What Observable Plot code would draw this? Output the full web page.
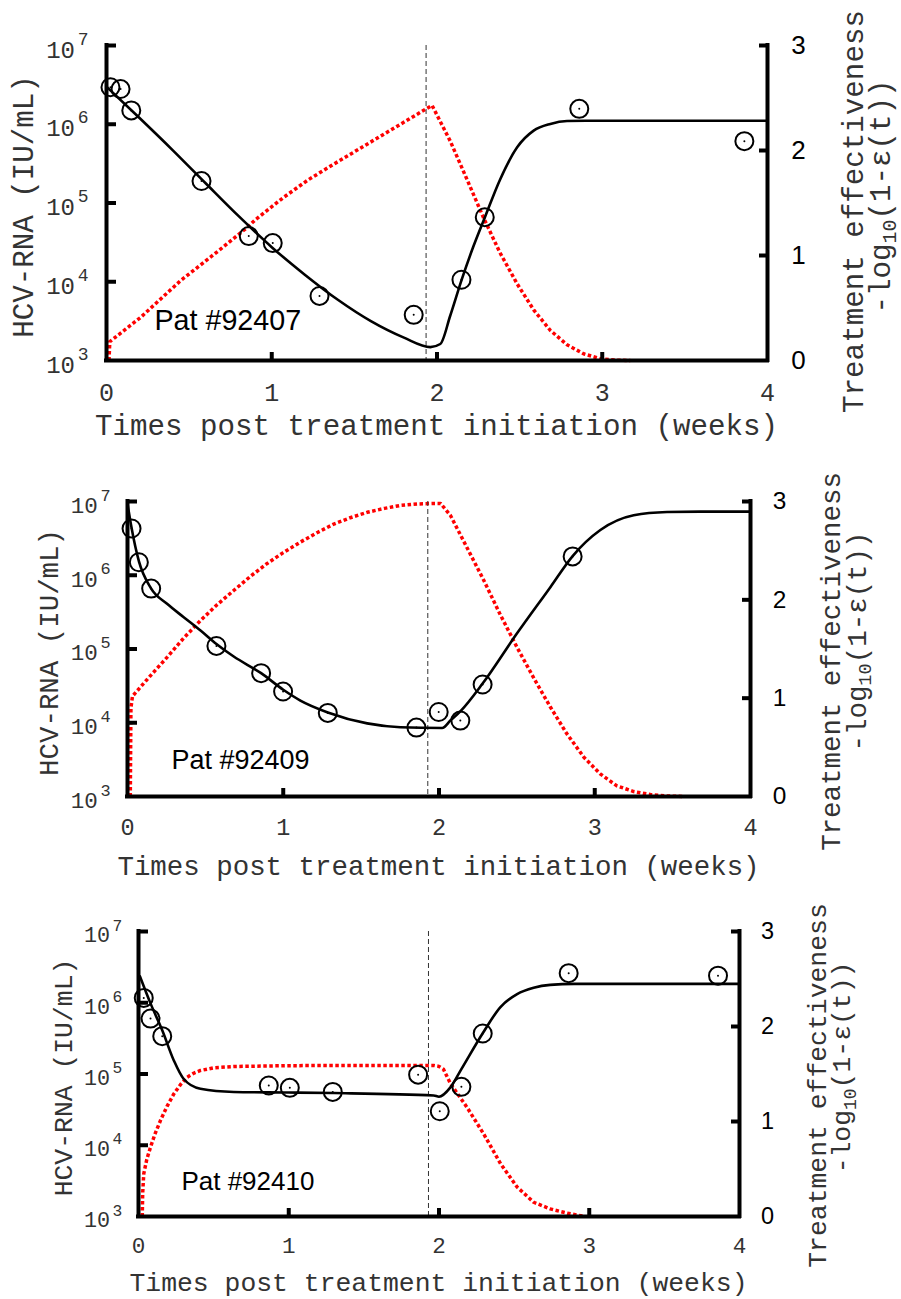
<!DOCTYPE html>
<html>
<head>
<meta charset="utf-8">
<script src="https://cdn.jsdelivr.net/npm/d3@7"></script>
<script src="https://cdn.jsdelivr.net/npm/@observablehq/plot@0.6"></script>
<style>
html, body { margin: 0; padding: 0; background: #fff; }
#chart { position: relative; width: 901px; height: 1299px; overflow: hidden; }
.panel { position: absolute; left: 0; width: 901px; }
.panel svg { position: absolute; left: 0; top: 0; }
</style>
</head>
<body>
<div id="chart"></div>
<script>
// ---------------- data ----------------
const patientNames = ["Pat #92407", "Pat #92409", "Pat #92410"];
const stopTimes = [1.934, 1.928, 1.93];        // end of treatment (weeks), dashed line
const labelT = [0.29, 0.283, 0.286];           // patient label anchor (weeks)
const labelV = [3150, 3080, 3100];             // patient label anchor (IU/mL)

const xTicks = [0, 1, 2, 3, 4];
const yTicks = [1e3, 1e4, 1e5, 1e6, 1e7];
const yExponents = ["3", "4", "5", "6", "7"];
const effTicks = [0, 1, 2, 3];

const xTitle = "Times post treatment initiation (weeks)";
const yTitle = "HCV-RNA (IU/mL)";
const rTitle1 = "Treatment effectiveness";

// Patient 92407
const obsT_92407 = [0.024, 0.085, 0.15, 0.575, 0.861, 1.006, 1.289, 1.859, 2.148, 2.289, 2.861, 3.86];
const obsV_92407 = [2.95e6, 2.8e6, 1.5e6, 1.9e5, 3.8e4, 3.1e4, 6.6e3, 3.8e3, 1.06e4, 6.6e4, 1.57e6, 6.1e5];
const fitT_92407 = [0, 0.2, 0.4, 0.6, 0.8, 1.0, 1.2, 1.4, 1.6, 1.8, 1.96, 2.02, 2.08, 2.15, 2.22, 2.29, 2.38, 2.485, 2.585, 2.686, 2.787, 2.9, 4.0];
const fitV_92407 = [3.0e6, 1.2e6, 4.7e5, 1.78e5, 6.8e4, 2.75e4, 1.23e4, 5.9e3, 3.16e3, 1.95e3, 1.48e3, 1.62e3, 3.7e3, 1.07e4, 2.8e4, 6.6e4, 1.95e5, 5.1e5, 8.3e5, 1.01e6, 1.1e6, 1.11e6, 1.11e6];
const effT_92407 = [0.015, 0.02, 0.206, 0.448, 0.69, 0.861, 0.9, 1.073, 1.22, 1.375, 1.577, 1.779, 1.97, 2.08, 2.18, 2.28, 2.38, 2.485, 2.586, 2.686, 2.787, 2.887, 2.99, 3.08, 3.17];
const effE_92407 = [0, 0.18, 0.41, 0.76, 1.06, 1.28, 1.34, 1.555, 1.72, 1.87, 2.06, 2.25, 2.43, 2.09, 1.73, 1.365, 1.03, 0.73, 0.48, 0.286, 0.15, 0.064, 0.016, 0.003, 0];

// Patient 92409
const obsT_92409 = [0.026, 0.073, 0.152, 0.571, 0.858, 0.999, 1.286, 1.855, 1.998, 2.137, 2.28, 2.858];
const obsV_92409 = [4.3e6, 1.5e6, 6.6e5, 1.1e5, 4.7e4, 2.65e4, 1.36e4, 8.6e3, 1.4e4, 1.07e4, 3.3e4, 1.8e6];
const fitT_92409 = [0, 0.026, 0.073, 0.152, 0.254, 0.361, 0.469, 0.571, 0.682, 0.858, 1.0, 1.11, 1.286, 1.539, 1.752, 2.02, 2.073, 2.14, 2.28, 2.5, 2.715, 2.858, 3.036, 3.25, 3.464, 3.678, 4.0];
const fitV_92409 = [9.3e6, 4.4e6, 1.55e6, 6.6e5, 4.1e5, 2.7e5, 1.78e5, 1.17e5, 7.9e4, 4.7e4, 2.8e4, 2.0e4, 1.38e4, 9.8e3, 8.7e3, 8.5e3, 1.07e4, 1.45e4, 3.4e4, 1.62e5, 6.9e5, 1.82e6, 4.1e6, 6.5e6, 7.2e6, 7.3e6, 7.3e6];
const effT_92409 = [0.018, 0.022, 0.032, 0.148, 0.255, 0.36, 0.469, 0.575, 0.682, 0.79, 0.897, 1.0, 1.11, 1.22, 1.324, 1.43, 1.539, 1.65, 1.752, 1.86, 1.966, 2.01, 2.073, 2.18, 2.287, 2.39, 2.5, 2.61, 2.715, 2.82, 2.93, 3.035, 3.14, 3.25, 3.357, 3.46, 3.57];
const effE_92409 = [0, 0.9, 1.02, 1.23, 1.417, 1.61, 1.79, 1.95, 2.095, 2.24, 2.37, 2.48, 2.587, 2.685, 2.77, 2.835, 2.89, 2.93, 2.96, 2.975, 2.98, 2.98, 2.86, 2.53, 2.2, 1.86, 1.52, 1.2, 0.91, 0.64, 0.40, 0.23, 0.11, 0.05, 0.02, 0.005, 0];

// Patient 92410
const obsT_92410 = [0.035, 0.08, 0.158, 0.867, 1.007, 1.293, 1.861, 2.005, 2.149, 2.291, 2.863, 3.857];
const obsV_92410 = [1.17e6, 6.0e5, 3.4e5, 6.9e4, 6.4e4, 5.6e4, 9.8e4, 3.0e4, 6.6e4, 3.7e5, 2.6e6, 2.4e6];
const fitT_92410 = [0.01, 0.08, 0.158, 0.235, 0.301, 0.412, 0.634, 1.0, 1.3, 1.965, 2.0, 2.076, 2.149, 2.29, 2.409, 2.52, 2.63, 2.74, 2.9, 4.0];
const fitV_92410 = [2.34e6, 9.8e5, 4.1e5, 1.55e5, 8.5e4, 6.2e4, 5.6e4, 5.5e4, 5.4e4, 5.0e4, 4.8e4, 6.5e4, 1.17e5, 3.7e5, 8.7e5, 1.32e6, 1.62e6, 1.78e6, 1.84e6, 1.84e6];
const effT_92410 = [0.025, 0.028, 0.035, 0.055, 0.08, 0.11, 0.146, 0.19, 0.235, 0.28, 0.324, 0.37, 0.412, 0.5, 0.634, 1.0, 1.965, 2.0, 2.03, 2.076, 2.186, 2.297, 2.41, 2.52, 2.63, 2.74, 2.853, 2.92, 2.97];
const effE_92410 = [0, 0.25, 0.45, 0.6, 0.73, 0.87, 1.01, 1.16, 1.29, 1.39, 1.466, 1.51, 1.537, 1.565, 1.579, 1.588, 1.59, 1.58, 1.55, 1.40, 1.15, 0.87, 0.555, 0.31, 0.15, 0.08, 0.035, 0.015, 0];

const obsT = [obsT_92407, obsT_92409, obsT_92410];
const obsV = [obsV_92407, obsV_92409, obsV_92410];
const fitT = [fitT_92407, fitT_92409, fitT_92410];
const fitV = [fitV_92407, fitV_92409, fitV_92410];
const effT = [effT_92407, effT_92409, effT_92410];
const effE = [effE_92407, effE_92409, effE_92410];

// ---------------- layout ----------------
const W = 901;
const layout = [
  {top: 0,   height: 440, ml: 106, mr: 134, mt: 45, mb: 80, s: 1.0,   xt: 75, xl: 40, rc1: 9,  rc2: -6},
  {top: 440, height: 440, ml: 127, mr: 151, mt: 61, mb: 84, s: 0.94,  xt: 79, xl: 38, rc1: 13, rc2: -7},
  {top: 880, height: 419, ml: 138, mr: 162, mt: 51, mb: 83, s: 0.905, xt: 75, xl: 36, rc1: 12, rc2: -6}
];
const MONO = "'Liberation Mono', 'Courier New', monospace";
const SANS = "'Liberation Sans', Arial, Helvetica, sans-serif";
const GREY = "#333";
const DOTS = "3.5,2.5";

const chart = document.getElementById("chart");

layout.forEach((L, i) => {
  const s = L.s;
  const obs = obsT[i].map((t, j) => ({t, v: obsV[i][j]}));
  const fit = fitT[i].map((t, j) => ({t, v: fitV[i][j]}));
  const eff = effT[i].map((t, j) => ({t, e: effE[i][j]}));

  const div = document.createElement("div");
  div.className = "panel";
  div.style.top = L.top + "px";
  div.style.height = L.height + "px";
  chart.appendChild(div);

  const common = {
    width: W, height: L.height,
    marginLeft: L.ml, marginRight: L.mr, marginTop: L.mt, marginBottom: L.mb,
    style: {background: "none", overflow: "visible"}
  };

  // Effectiveness (right axis, linear 0..3)
  const effPlot = Plot.plot({
    ...common,
    x: {domain: [0, 4], axis: null},
    y: {domain: [0, 3]},
    marks: [
      Plot.line(eff, {x: "t", y: "e", stroke: "#ff0000", strokeWidth: 3.5, strokeDasharray: DOTS, strokeLinecap: "butt", curve: "linear"}),
      Plot.ruleX([4], {stroke: "black", strokeWidth: 4, strokeLinecap: "square"}),
      Plot.axisY(effTicks.slice(1), {anchor: "right", tickSize: -9, strokeWidth: 4, tickFormat: () => "", label: null}),
      Plot.text(effTicks, {y: d => d, text: d => String(d), frameAnchor: "right", textAnchor: "middle", lineAnchor: "middle",
        dx: 31 * s, fontFamily: SANS, fontSize: 26 * s, fill: "black"})
    ]
  });
  // make sure the effectiveness curve is drawn dotted
  d3.select(effPlot).selectAll("path")
    .filter(function () { return (this.getAttribute("stroke") || this.parentNode.getAttribute("stroke")) === "#ff0000"; })
    .attr("stroke-dasharray", DOTS);

  // Viral load (left axis, log)
  const vlPlot = Plot.plot({
    ...common,
    x: {domain: [0, 4]},
    y: {type: "log", domain: [1e3, 1e7]},
    marks: [
      Plot.ruleX([stopTimes[i]], {stroke: "#333", strokeWidth: 1, strokeDasharray: "5,3"}),
      Plot.line(fit, {x: "t", y: "v", stroke: "black", strokeWidth: 2.6, curve: "monotone-x"}),
      Plot.dot(obs, {x: "t", y: "v", r: 9, stroke: "black", strokeWidth: 2, fill: "none"}),
      Plot.dot(obs, {x: "t", y: "v", r: 1, fill: "black"}),
      Plot.ruleX([0], {stroke: "black", strokeWidth: 4, strokeLinecap: "square"}),
      Plot.ruleY([1e3], {stroke: "black", strokeWidth: 4, strokeLinecap: "square"}),
      Plot.axisY(yTicks.slice(1), {anchor: "left", tickSize: -10, strokeWidth: 4, tickFormat: () => "", label: null}),
      Plot.axisX([1, 2, 3], {anchor: "bottom", tickSize: -8, strokeWidth: 4, tickFormat: () => "", label: null}),
      Plot.text(yTicks, {y: d => d, text: () => "10", frameAnchor: "left", textAnchor: "end", lineAnchor: "bottom",
        dx: -31.5 * s, dy: 12 * s, fontFamily: MONO, fontSize: 24 * s, fill: GREY}),
      Plot.text(yTicks, {y: d => d, text: (d, j) => yExponents[j], frameAnchor: "left", textAnchor: "end", lineAnchor: "bottom",
        dx: -18 * s, dy: -1, fontFamily: MONO, fontSize: 18 * s, fill: GREY}),
      Plot.text(xTicks, {x: d => d, text: d => String(d), frameAnchor: "bottom", textAnchor: "middle", lineAnchor: "bottom",
        dy: L.xl, fontFamily: MONO, fontSize: 25 * s, fill: GREY}),
      Plot.text([patientNames[i]], {x: () => labelT[i], y: () => labelV[i], text: d => d, textAnchor: "start", lineAnchor: "middle",
        fontFamily: SANS, fontSize: 28.7 * s, fill: "black"})
    ]
  });

  div.appendChild(effPlot);
  div.appendChild(vlPlot);

  // Axis titles
  const svg = d3.select(vlPlot);
  const frameL = L.ml, frameR = W - L.mr, frameT = L.mt, frameB = L.height - L.mb;
  const cx = (frameL + frameR) / 2, cy = (frameT + frameB) / 2;
  const fsT = 29.2 * s;

  svg.append("text")
    .attr("x", cx).attr("y", frameB + L.xt)
    .attr("text-anchor", "middle")
    .attr("font-family", MONO).attr("font-size", fsT).attr("fill", GREY)
    .text(xTitle);

  svg.append("text")
    .attr("transform", `translate(${frameL - 73 * s},${cy + 4}) rotate(-90)`)
    .attr("text-anchor", "middle")
    .attr("font-family", MONO).attr("font-size", fsT).attr("fill", GREY)
    .text(yTitle);

  svg.append("text")
    .attr("transform", `translate(${frameR + 96 * s},${cy + L.rc1}) rotate(-90)`)
    .attr("text-anchor", "middle")
    .attr("font-family", MONO).attr("font-size", fsT).attr("fill", GREY)
    .text(rTitle1);

  const t2 = svg.append("text")
    .attr("transform", `translate(${frameR + 123 * s},${cy + L.rc2}) rotate(-90)`)
    .attr("text-anchor", "middle")
    .attr("font-family", MONO).attr("font-size", fsT).attr("fill", GREY);
  t2.append("tspan").text("-log");
  t2.append("tspan").attr("font-size", fsT * 0.68).attr("dy", 6 * s).text("10");
  t2.append("tspan").attr("dy", -6 * s).text("(1-ε(t))");
});
</script>
</body>
</html>
